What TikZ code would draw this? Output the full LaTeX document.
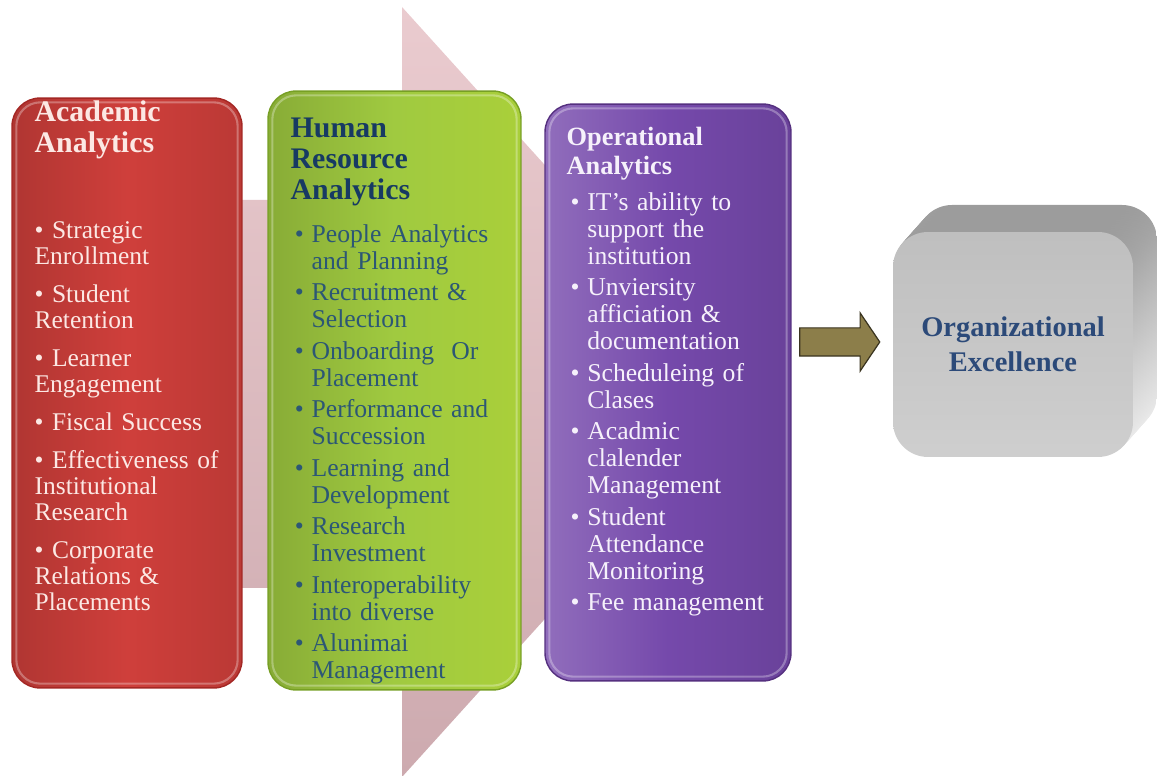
\documentclass[tikz,border=0pt]{standalone}
\usepackage{fontspec}
\setmainfont{Liberation Serif}
\usetikzlibrary{shapes.arrows}
\definecolor{acadred}{HTML}{CF3F3B}
\definecolor{acaddark}{HTML}{A32724}
\definecolor{acadtxt}{HTML}{FCE8E4}
\definecolor{hrgreen}{HTML}{A0CA40}
\definecolor{hrdark}{HTML}{779F25}
\definecolor{hrnavy}{HTML}{173A63}
\definecolor{hrtxt}{HTML}{2C5775}
\definecolor{opviolet}{HTML}{7549AB}
\definecolor{opdark}{HTML}{55307F}
\definecolor{optxt}{HTML}{F6F1FB}
\definecolor{pinkbg}{HTML}{EACBCF}
\definecolor{pinkdark}{HTML}{CDAAAF}
\definecolor{olive}{HTML}{8C7E4A}
\definecolor{olivedark}{HTML}{3A3420}
\definecolor{cubefront}{HTML}{C9C9C9}
\definecolor{cubetop}{HTML}{9C9C9C}
\definecolor{cubelight}{HTML}{F0F0F0}
\definecolor{cubetxt}{HTML}{2C4A79}
\newlength{\bulw}
\setlength{\bulw}{9.5pt}
\newcommand{\lstgap}[1]{\setlength{\parskip}{#1}}
\newcommand{\ritem}[1]{\par\noindent\textbullet\ #1}
\newcommand{\hitem}[1]{\par\noindent\hangindent=\bulw\hangafter=1\makebox[\bulw][l]{\textbullet}#1}
\tikzset{
  panel/.style={rectangle, rounded corners=0.56cm, line width=0.8pt, inner sep=0pt},
  acadbox/.style={panel, draw=acaddark, left color=acadred!85!black, right color=acadred!90!black,
    middle color=acadred, minimum width=4.6cm, minimum height=11.8cm},
  hrbox/.style={panel, draw=hrdark, left color=hrgreen!85!black, right color=hrgreen!90!yellow,
    middle color=hrgreen, minimum width=5.06cm, minimum height=11.98cm},
  opbox/.style={panel, draw=opdark, left color=opviolet!80!white, right color=opviolet!90!black,
    middle color=opviolet, minimum width=4.92cm, minimum height=11.54cm},
  glint/.style={rounded corners=0.48cm, draw=white, draw opacity=0.3, line width=1.2pt},
  headtxt/.style={anchor=north west, inner sep=0pt, align=left, font=\bfseries\fontsize{17}{17.6}\selectfont},
  listtxt/.style={anchor=north west, inner sep=0pt, text width=4.4cm, align=left,
    font=\fontsize{14.6}{15.4}\selectfont},
  cubeside/.style={rounded corners=0.7cm, top color=cubetop, bottom color=cubelight},
  cube/.style={rectangle, rounded corners=0.7cm, minimum width=4.8cm, minimum height=4.5cm,
    top color=cubefront!95!black, bottom color=cubefront!90!white, text=cubetxt, align=center,
    font=\bfseries\fontsize{16.2}{20}\selectfont},
  fatarrow/.style={single arrow, draw=olivedark, fill=olive, line width=0.7pt, inner sep=0pt,
    text height=0.54cm, text depth=0pt, minimum height=1.6cm, minimum width=1.14cm,
    single arrow head extend=0.3cm, single arrow tip angle=112},
}
\begin{document}
\begin{tikzpicture}[x=0.02cm, y=-0.02cm]
\useasboundingbox (0,0) rectangle (1157,776);
\shade[top color=pinkbg, bottom color=pinkdark] (150,200) -- (402,200) -- (402,7) -- (750,392)
  -- (402,777) -- (402,588) -- (150,588) -- cycle;

\node[acadbox] (acad) at (127,393) {};
\node[hrbox] (hra) at (394.5,390.5) {};
\node[opbox] (opa) at (668,392.5) {};
\foreach \b in {acad,hra,opa}
  \draw[glint] ([shift={(5,5)}]\b.north west) rectangle ([shift={(-5,-5)}]\b.south east);

\node[headtxt, text=acadtxt] (acadttl) at ([shift={(23,3)}]acad.north west) {Academic\\Analytics};
\node[listtxt, text=acadtxt, font=\fontsize{14.5}{14.8}\selectfont] (acadlst) at ([shift={(23,103)}]acad.north west)
  {\lstgap{6.8pt}\ritem{Strategic\newline Enrollment}\ritem{Student\newline Retention}
   \ritem{Learner\newline Engagement}\ritem{Fiscal Success}
   \ritem{Effectiveness of\newline Institutional\newline Research}
   \ritem{Corporate\newline Relations \&\newline Placements}\par};

\node[headtxt, text=hrnavy] (hrttl) at ([shift={(23,27.5)}]hra.north west) {Human\\Resource\\Analytics};
\node[listtxt, text=hrtxt] (hrlst) at ([shift={(27.3,120)}]hra.north west)
  {\lstgap{2.5pt}\hitem{People Analytics\newline and Planning}\hitem{Recruitment \&\newline Selection}
   \hitem{Onboarding~ Or\newline Placement}\hitem{Performance and\newline Succession}
   \hitem{Learning and\newline Development}\hitem{Research\newline Investment}
   \hitem{Interoperability\newline into diverse}\hitem{Alunimai\newline Management}\par};

\node[headtxt, text=optxt, font=\bfseries\fontsize{15}{16}\selectfont] (opttl) at ([shift={(22,24)}]opa.north west)
  {Operational\\Analytics};
\node[listtxt, text=optxt] (oplst) at ([shift={(26,75)}]opa.north west)
  {\lstgap{2.5pt}\hitem{IT’s ability to\newline support the\newline institution}
   \hitem{Unviersity\newline afficiation \&\newline documentation}\hitem{Scheduleing of\newline Clases}
   \hitem{Acadmic\newline clalender\newline Management}\hitem{Student\newline Attendance\newline Monitoring}
   \hitem{Fee management}\par};

\foreach \k in {16,...,1}
  \shade[cubeside] ([shift={(1.5*\k,-1.6875*\k)}]893,232) rectangle ++(240,225);
\node[cube] (orgex) at (1013,344.5) {Organizational\\Excellence};

\node[fatarrow] (arr) at (835,342) {};
\end{tikzpicture}
\end{document}
